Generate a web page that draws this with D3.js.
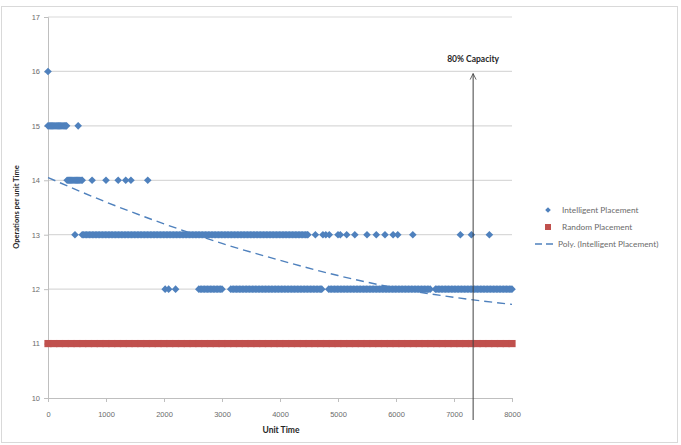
<!DOCTYPE html>
<html><head><meta charset="utf-8">
<script src="https://cdn.jsdelivr.net/npm/d3@7"></script>
<style>body{margin:0;background:#fff;}svg{display:block;font-family:Lato,"Open Sans",sans-serif;}</style>
</head><body>
<svg id="c" width="681" height="445"></svg>
<script>
// ---- data ----
const yTicks = [10,11,12,13,14,15,16,17];
const xTicks = [0,1000,2000,3000,4000,5000,6000,7000,8000];
const level16 = [0];
const level15 = [0,20,40,60,80,100,120,140,160,180,200,220,240,260,280,300,320,520];
const level14 = [330,350,370,390,410,430,450,470,490,510,530,550,570,590,760,1000,1210,1340,1430,1720];
const level13 = [465,590,615,640,665,690,715,740,765,790,815,840,865,890,915,940,965,990,1015,1040,1065,1090,1115,1140,1165,1190,1215,1240,1265,1290,1315,1340,1365,1390,1415,1440,1465,1490,1515,1540,1565,1590,1615,1640,1665,1690,1715,1740,1765,1790,1815,1840,1865,1890,1915,1940,1965,1990,2015,2040,2065,2090,2115,2140,2165,2190,2215,2240,2265,2290,2315,2340,2365,2390,2415,2440,2465,2490,2515,2540,2565,2590,2615,2640,2665,2690,2715,2740,2765,2790,2815,2840,2865,2890,2915,2940,2965,2990,3015,3040,3065,3090,3115,3140,3165,3190,3215,3240,3265,3290,3315,3340,3365,3390,3415,3440,3465,3490,3515,3540,3565,3590,3615,3640,3665,3690,3715,3740,3765,3790,3815,3840,3865,3890,3915,3940,3965,3990,4015,4040,4065,4090,4115,4140,4165,4190,4215,4240,4265,4290,4315,4340,4365,4390,4415,4440,4465,4480,4610,4740,4790,4850,5000,5040,5150,5290,5500,5660,5810,5950,6030,6290,7110,7300,7610];
const level12 = [2020,2080,2200,2600,2625,2650,2675,2700,2725,2750,2775,2800,2825,2850,2875,2900,2925,2950,2975,3000,3150,3175,3200,3225,3250,3275,3300,3325,3350,3375,3400,3425,3450,3475,3500,3525,3550,3575,3600,3625,3650,3675,3700,3725,3750,3775,3800,3825,3850,3875,3900,3925,3950,3975,4000,4025,4050,4075,4100,4125,4150,4175,4200,4225,4250,4275,4300,4325,4350,4375,4400,4425,4450,4475,4500,4525,4550,4575,4600,4625,4650,4675,4700,4720,4840,4865,4890,4915,4940,4965,4990,5015,5040,5065,5090,5115,5140,5165,5190,5215,5240,5265,5290,5315,5340,5365,5390,5415,5440,5465,5490,5515,5540,5565,5590,5615,5640,5665,5690,5715,5740,5765,5790,5815,5840,5865,5890,5915,5940,5965,5990,6015,6040,6065,6090,6115,6140,6165,6190,6215,6240,6265,6290,6315,6340,6365,6390,6415,6440,6465,6490,6515,6540,6565,6590,6680,6705,6730,6755,6780,6805,6830,6855,6880,6905,6930,6955,6980,7005,7030,7055,7080,7105,7130,7155,7180,7205,7230,7255,7280,7305,7330,7355,7380,7405,7430,7455,7480,7505,7530,7555,7580,7605,7630,7655,7680,7705,7730,7755,7780,7805,7830,7855,7880,7905,7930,7955,7980,8000];
const randomX = [0,100,200,300,400,500,600,700,800,900,1000,1100,1200,1300,1400,1500,1600,1700,1800,1900,2000,2100,2200,2300,2400,2500,2600,2700,2800,2900,3000,3100,3200,3300,3400,3500,3600,3700,3800,3900,4000,4100,4200,4300,4400,4500,4600,4700,4800,4900,5000,5100,5200,5300,5400,5500,5600,5700,5800,5900,6000,6100,6200,6300,6400,6500,6600,6700,6800,6900,7000,7100,7200,7300,7400,7500,7600,7700,7800,7900,8000];
const randomY = 11;
const trendX = [0,1000,2000,3000,4000,5000,6000,7000,8000];
const trendY = [14.05,13.6,13.2,12.84,12.53,12.25,12.02,11.85,11.72];
const capacityX = 7330;
const capacityLabel = "80% Capacity";
const legendLabels = ["Intelligent Placement","Random Placement","Poly. (Intelligent Placement)"];

// ---- chart ----
const blue = "#4f81bd", red = "#c0504d", grid = "#d9d9d9", txt = "#595959";
const svg = d3.select("#c");
svg.append("rect").attr("x",1.5).attr("y",6.5).attr("width",676).attr("height",436)
  .attr("fill","#fff").attr("stroke","#d9d9d9");

const x = d3.scaleLinear().domain([0,8000]).range([48,512]);
const y = d3.scaleLinear().domain([10,17]).range([398,17]);

// gridlines
svg.append("g").selectAll("line").data(yTicks.filter(t=>t>10)).join("line")
  .attr("x1",x(0)).attr("x2",x(8000)).attr("y1",d=>y(d)).attr("y2",d=>y(d))
  .attr("stroke",grid).attr("stroke-width",1.2);

// axes
const xa = svg.append("g").attr("transform",`translate(0,${y(10)})`)
  .call(d3.axisBottom(x).tickValues(xTicks).tickSize(4).tickPadding(10).tickFormat(d3.format("d")));
const ya = svg.append("g").attr("transform",`translate(${x(0)},0)`)
  .call(d3.axisLeft(y).tickValues(yTicks).tickSize(4).tickPadding(4).tickFormat(d3.format("d")));
[xa,ya].forEach(a=>{
  a.select(".domain").attr("stroke","#bfbfbf");
  a.selectAll(".tick line").attr("stroke","#bfbfbf");
  a.selectAll("text").attr("fill","#6b6b6b").style("font-size","7.5px");
});

// random placement squares
svg.append("g").selectAll("rect").data(randomX).join("rect")
  .attr("x",d=>x(d)-3.6).attr("y",y(randomY)-3.6).attr("width",7.2).attr("height",7.2)
  .attr("fill",red);

// intelligent placement diamonds
const pts = [];
[[16,level16],[15,level15],[14,level14],[13,level13],[12,level12]].forEach(([lv,arr])=>arr.forEach(v=>pts.push([v,lv])));
const dia = "M0,-3.8L3.8,0L0,3.8L-3.8,0Z";
svg.append("g").selectAll("path").data(pts).join("path")
  .attr("d",dia).attr("transform",d=>`translate(${x(d[0])},${y(d[1])})`).attr("fill",blue);

// trendline
svg.append("path").datum(trendX.map((v,i)=>[v,trendY[i]]))
  .attr("d",d3.line().x(d=>x(d[0])).y(d=>y(d[1])).curve(d3.curveMonotoneX))
  .attr("fill","none").attr("stroke",blue).attr("stroke-width",1.4).attr("stroke-dasharray","8,5");

// capacity arrow
const ax = x(capacityX);
svg.append("line").attr("x1",ax).attr("x2",ax).attr("y1",420).attr("y2",y(15.96))
  .attr("stroke","#404040").attr("stroke-width",1);
svg.append("path").attr("d",`M${ax-3},${y(15.96)+6}L${ax},${y(15.96)}L${ax+3},${y(15.96)+6}`)
  .attr("fill","none").attr("stroke","#404040").attr("stroke-width",0.8);
svg.append("text").attr("x",ax).attr("y",62).attr("text-anchor","middle")
  .style("font-size","8.5px").style("font-weight","bold").attr("fill","#262626").text(capacityLabel);

// axis titles
svg.append("text").attr("x",281).attr("y",433).attr("text-anchor","middle")
  .style("font-size","8.5px").style("font-weight","bold").attr("fill","#262626").text("Unit Time");
svg.append("text").attr("transform","translate(19,207) rotate(-90)").attr("text-anchor","middle")
  .style("font-size","7.5px").style("font-weight","bold").attr("fill","#262626").text("Operations per unit Time");

// legend
const lg = svg.append("g");
lg.append("path").attr("d","M0,-2.8L2.8,0L0,2.8L-2.8,0Z").attr("transform","translate(548,210)").attr("fill",blue);
lg.append("rect").attr("x",545).attr("y",224).attr("width",6).attr("height",6).attr("fill",red);
lg.append("line").attr("x1",535).attr("x2",557).attr("y1",244).attr("y2",244)
  .attr("stroke",blue).attr("stroke-width",1.3).attr("stroke-dasharray","7,4");
[210,227,244].forEach((yy,i)=>{
  lg.append("text").attr("x",i==2?558:562).attr("y",yy+3).style("font-size","8.3px")
    .attr("fill","#6b6b6b").text(legendLabels[i]);
});
</script>
</body></html>
